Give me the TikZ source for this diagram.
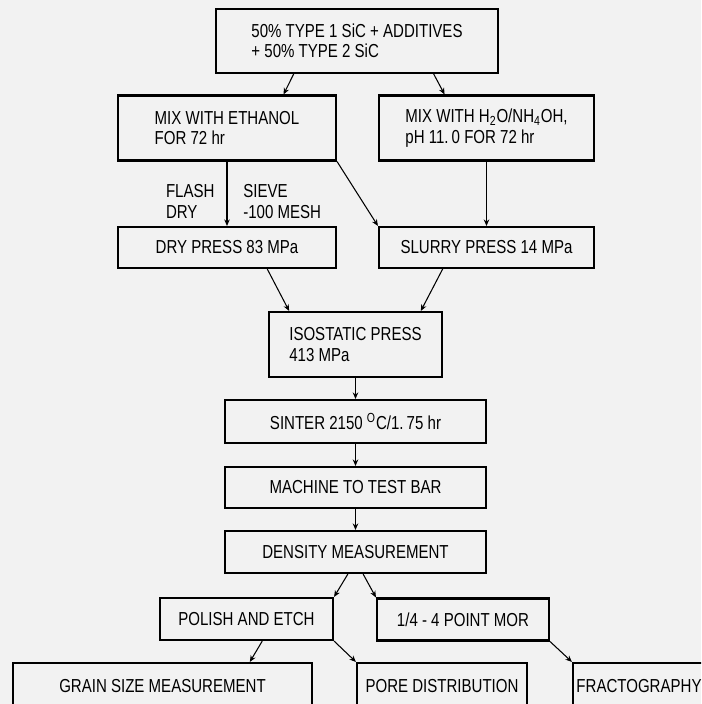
\documentclass[tikz,border=0pt]{standalone}
\usepackage{fontspec}
\setmainfont{Liberation Sans}[FakeStretch=0.8]
\usetikzlibrary{calc}
\usetikzlibrary{arrows.meta}
\tikzset{
    procbox/.style = {rectangle, draw=black, line width=1.2pt, align=left, inner sep=2pt, text=black,
                      minimum height=0.82cm, font=\fontsize{10.7}{11.6}\selectfont},
    procboxtall/.style = {procbox, minimum height=1.30cm},
    flow/.style = {-{Stealth[length=1.3mm,width=1.1mm]}, line width=0.6pt},
    edgelabel/.style = {align=left, inner sep=0pt, text=black, font=\fontsize{10.7}{11.6}\selectfont},
    paper/.style = {fill=black!5, draw=none}
}

\begin{document}
\begin{tikzpicture}
  \useasboundingbox (0,0) rectangle (14.02,-14.08);
  \clip (0,0) rectangle (14.02,-14.08);
  \fill[paper] (0,0) rectangle (14.02,-14.08);

  % mixing
  \node[procboxtall, minimum width=5.64cm, minimum height=1.28cm] at (7.14,-0.82) (src) {50\% TYPE 1 SiC + ADDITIVES\\+ 50\% TYPE 2 SiC};
  \node[procboxtall, minimum width=4.36cm] at (4.54,-2.56) (ethanol) {MIX WITH ETHANOL\\FOR 72 hr};
  \node[procboxtall, minimum width=4.30cm] at (9.73,-2.56) (water) {MIX WITH H\textsubscript{2}O/NH\textsubscript{4}OH,\\pH 11.\,0 FOR 72 hr};

  % pressing
  \node[procbox, minimum width=4.36cm] at (4.54,-4.95) (drypress) {DRY PRESS 83 MPa};
  \node[procbox, minimum width=4.30cm] at (9.73,-4.95) (slurry) {SLURRY PRESS 14 MPa};
  \node[procboxtall, minimum width=3.46cm] at (7.11,-6.89) (iso) {ISOSTATIC PRESS\\413 MPa};

  % firing and testing
  \node[procbox, minimum width=5.22cm, minimum height=0.86cm] at (7.11,-8.43) (sinter) {SINTER 2150 \textsuperscript{O}C/1.\,75 hr};
  \node[procbox, minimum width=5.22cm] at (7.11,-9.75) (machine) {MACHINE TO TEST BAR};
  \node[procbox, minimum width=5.22cm, minimum height=0.84cm] at (7.11,-11.04) (density) {DENSITY MEASUREMENT};
  \node[procbox, minimum width=3.46cm, minimum height=0.84cm] at (4.93,-12.38) (polish) {POLISH AND ETCH};
  \node[procbox, minimum width=3.44cm, minimum height=0.84cm] at (9.26,-12.39) (mor) {1/4 - 4 POINT MOR};
  \node[procbox, minimum width=5.98cm, minimum height=0.94cm] at (3.25,-13.73) (grain) {GRAIN SIZE MEASUREMENT};
  \node[procbox, minimum width=3.40cm, minimum height=0.94cm] at (8.84,-13.73) (pore) {PORE DISTRIBUTION};
  \node[procbox, minimum width=2.64cm, minimum height=0.94cm, inner sep=0.5pt] at (12.78,-13.73) (fracto) {FRACTOGRAPHY};

  \draw[flow] ($(src.south west)!.277!(src.south east)$) -- ($(ethanol.north west)!.757!(ethanol.north east)$);
  \draw[flow] ($(src.south west)!.77!(src.south east)$) -- ($(water.north west)!.307!(water.north east)$);
  \draw[flow] (ethanol) -- node[pos=.62, left=6.8pt, edgelabel] {FLASH\\DRY}
                           node[pos=.62, right=9pt, edgelabel] {SIEVE\\-100 MESH} (drypress);
  \draw[flow] (ethanol.south east) -- (slurry.north west);
  \draw[flow] (water) -- (slurry);
  \draw[flow] ($(drypress.south west)!.683!(drypress.south east)$) -- ($(iso.north west)!.121!(iso.north east)$);
  \draw[flow] ($(slurry.south west)!.298!(slurry.south east)$) -- ($(iso.north west)!.873!(iso.north east)$);
  \draw[flow] (iso) -- (sinter);
  \draw[flow] (sinter) -- (machine);
  \draw[flow] (machine) -- (density);
  \draw[flow] ($(density.south west)!.471!(density.south east)$) -- (polish.north east);
  \draw[flow] ($(density.south west)!.529!(density.south east)$) -- (mor.north west);
  \draw[flow] ($(polish.south west)!.59!(polish.south east)$) -- ($(grain.north west)!.79!(grain.north east)$);
  \draw[flow] (polish.south east) -- (pore.north west);
  \draw[flow] (mor.south east) -- (fracto.north west);

\end{tikzpicture}
\end{document}
